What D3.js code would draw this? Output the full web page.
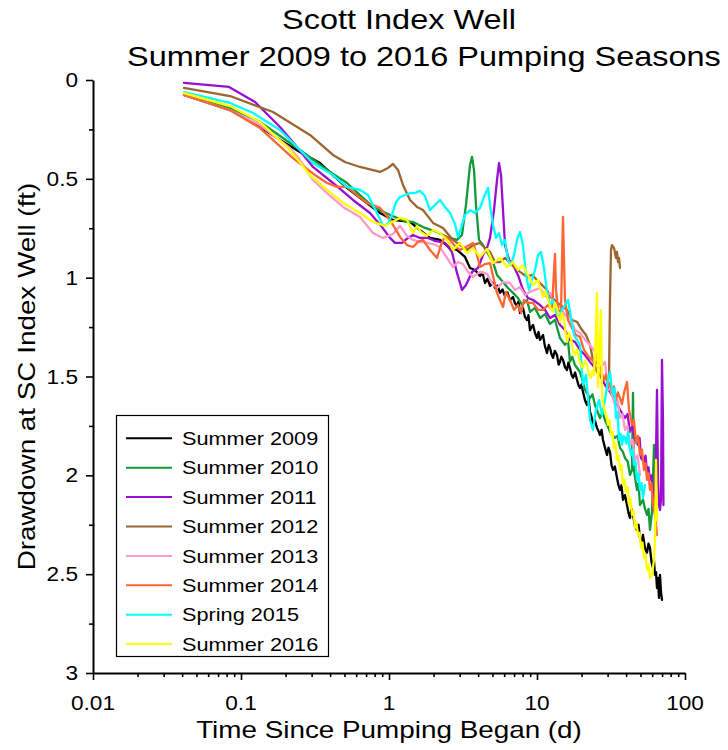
<!DOCTYPE html>
<html><head><meta charset="utf-8">
<script src="https://cdn.jsdelivr.net/npm/d3@7"></script>
<style>
body{margin:0;background:#fff}
svg{display:block}
text{font-family:"Liberation Sans",Arial,Helvetica,sans-serif;fill:#000}
</style>
</head><body>
<svg id="chart" width="728" height="750"></svg>
<script>
// ---------------- DATA ----------------
const seriesNames = ["Summer 2009","Summer 2010","Summer 2011","Summer 2012","Summer 2013","Summer 2014","Spring 2015","Summer 2016"];
const seriesColors = ["#000000","#129a3a","#9a0fcf","#9c6633","#ff99cc","#ff6633","#00ffff","#ffff00"];

// [time since pumping began (d), drawdown (ft)]
const summer2009 = [[0.0412,0.076],[0.0843,0.152],[0.128,0.228],[0.184,0.303],[0.250,0.364],[0.342,0.420],[0.418,0.481],[0.520,0.546],[0.667,0.607],[0.869,0.673],[1.064,0.708],[1.387,0.718],[1.620,0.759],[1.892,0.799],[2.211,0.809],[2.584,0.850],[2.880,0.860],[3.263,0.895],[3.526,0.951],[3.812,0.961],[4.120,0.992],[4.28,0.975],[4.454,1.027],[4.63,1.005],[4.814,1.042],[5.0,1.025],[5.203,1.052],[5.41,1.04],[5.623,1.077],[5.85,1.06],[6.079,1.093],[6.32,1.075],[6.570,1.113],[6.883,1.098],[7.1,1.13],[7.326,1.143],[7.5,1.12],[7.677,1.179],[8.04,1.153],[8.3,1.2],[8.557,1.214],[8.75,1.19],[8.969,1.265],[9.40,1.239],[9.7,1.28],[10.0,1.305],[10.24,1.275],[10.48,1.315],[10.98,1.290],[11.3,1.345],[11.68,1.381],[12.0,1.34],[12.24,1.355],[12.5,1.385],[12.83,1.406],[13.2,1.37],[13.65,1.391],[14.0,1.44],[14.30,1.426],[14.6,1.40],[14.98,1.416],[15.5,1.455],[15.95,1.467],[16.3,1.43],[16.71,1.457],[17.1,1.49],[17.51,1.507],[18.1,1.48],[18.64,1.517],[19.1,1.545],[19.52,1.558],[20.0,1.54],[20.46,1.578],[21.1,1.62],[21.77,1.644],[22.3,1.615],[22.81,1.679],[23.3,1.70],[23.89,1.745],[24.6,1.72],[25.43,1.760],[26.0,1.775],[26.65,1.796],[27.3,1.77],[27.92,1.821],[28.8,1.86],[29.72,1.897],[30.4,1.86],[31.13,1.882],[31.9,1.95],[32.63,1.973],[33.6,1.955],[34.71,2.013],[35.5,2.05],[36.37,2.074],[37.2,2.05],[38.11,2.124],[39.3,2.10],[40.56,2.150],[41.5,2.19],[42.49,2.215],[43.5,2.17],[44.53,2.200],[46.0,2.26],[47.39,2.276],[48.5,2.25],[49.65,2.317],[50.8,2.34],[52.02,2.301],[53.7,2.37],[55.37,2.392],[56.7,2.345],[58.00,2.367],[59.4,2.44],[60.78,2.468],[61.7,2.43],[62.69,2.504],[63.7,2.49],[64.68,2.570],[65.68,2.519],[66.72,2.620],[67.77,2.504],[68.82,2.590],[69.9,2.630]];

const summer2010 = [[0.0412,0.076],[0.0843,0.142],[0.1344,0.212],[0.2504,0.354],[0.3813,0.455],[0.5202,0.521],[0.637,0.582],[0.7795,0.642],[1.016,0.683],[1.323,0.718],[1.453,0.718],[1.697,0.744],[2.110,0.769],[2.465,0.794],[2.880,0.809],[3.113,0.784],[3.313,0.632],[3.526,0.430],[3.638,0.389],[3.752,0.455],[3.870,0.632],[4.056,0.809],[4.317,0.835],[4.594,0.870],[5.043,0.921],[5.367,0.986],[5.892,1.022],[6.37,1.052],[6.883,1.077],[7.44,1.103],[7.92,1.138],[8.557,1.113],[8.969,1.173],[9.694,1.153],[10.48,1.204],[11.33,1.184],[12.24,1.234],[13.23,1.214],[14.30,1.305],[15.46,1.340],[16.2,1.320],[16.71,1.426],[17.3,1.400],[18.06,1.442],[19.52,1.477],[20.3,1.520],[21.10,1.568],[22.81,1.609],[23.7,1.590],[24.65,1.644],[26.65,1.710],[27.7,1.680],[28.80,1.720],[30.0,1.750],[31.13,1.780],[33.65,1.811],[35.0,1.800],[36.37,1.861],[38.0,1.880],[39.31,1.912],[41.0,1.930],[42.49,1.998],[43.85,1.973],[44.53,1.583],[45.22,1.973],[47.39,2.074],[48.5,2.04],[49.65,2.150],[52.02,2.124],[53.7,2.17],[55.37,2.200],[56.7,2.17],[58.00,2.276],[59.84,2.185],[61.73,1.846],[62.69,2.124],[63.68,2.236]];

const summer2011 = [[0.0412,0.015],[0.0830,0.035],[0.1244,0.111],[0.1835,0.238],[0.2389,0.339],[0.3065,0.440],[0.4183,0.521],[0.5710,0.607],[0.7440,0.673],[0.8967,0.744],[1.016,0.799],[1.098,0.824],[1.224,0.824],[1.344,0.799],[1.453,0.784],[1.620,0.799],[1.834,0.799],[2.046,0.814],[2.390,0.824],[2.665,0.870],[2.880,0.976],[3.113,1.062],[3.313,1.037],[3.638,0.971],[3.994,0.951],[4.317,0.885],[4.594,0.850],[4.814,0.799],[5.123,0.658],[5.367,0.506],[5.537,0.420],[5.712,0.481],[5.892,0.658],[6.079,0.835],[6.47,0.910],[6.883,0.936],[7.44,0.986],[8.04,1.062],[8.69,1.103],[9.40,1.113],[10.48,1.138],[11.33,1.163],[12.24,1.204],[13.23,1.189],[14.30,1.239],[15.46,1.265],[16.71,1.315],[18.06,1.325],[19.52,1.366],[21.10,1.391],[22.81,1.426],[24.65,1.457],[26.65,1.492],[28.80,1.543],[31.13,1.578],[33.65,1.619],[36.37,1.669],[39.31,1.710],[40.9,1.69],[42.49,1.780],[44.2,1.75],[45.93,1.821],[48.13,1.846],[49.3,1.81],[50.43,1.912],[52.84,1.932],[54.1,1.90],[55.37,1.983],[56.7,1.96],[58.00,2.023],[59.4,2.00],[60.78,2.084],[62.69,2.124],[63.68,1.897],[64.68,1.568],[65.68,2.023],[66.72,2.150],[67.77,2.175],[68.82,2.124],[69.9,1.416],[71.0,1.720],[71.5,2.150]];

const summer2012 = [[0.0412,0.040],[0.0843,0.081],[0.1645,0.162],[0.2925,0.278],[0.4183,0.379],[0.5043,0.415],[0.637,0.440],[0.8694,0.465],[0.9845,0.445],[1.064,0.425],[1.150,0.455],[1.243,0.531],[1.387,0.607],[1.546,0.642],[1.697,0.658],[1.983,0.723],[2.317,0.749],[2.706,0.809],[3.018,0.835],[3.365,0.860],[3.695,0.835],[4.120,0.824],[4.454,0.850],[4.814,0.870],[5.203,0.921],[5.623,0.921],[6.079,0.900],[6.570,0.926],[7.102,0.951],[7.677,0.971],[8.557,0.996],[9.25,0.986],[10.0,1.012],[10.81,1.037],[11.68,1.062],[12.24,1.098],[13.23,1.113],[14.30,1.138],[15.95,1.163],[17.24,1.214],[18.64,1.224],[20.14,1.265],[21.43,1.290],[22.81,1.340],[23.89,1.416],[25.43,1.477],[26.65,1.492],[28.36,1.507],[29.72,1.517],[30.65,1.507],[31.13,1.113],[31.62,0.860],[32.12,0.835],[33.13,0.850],[34.18,0.900],[34.71,0.870],[35.26,0.921],[35.82,0.900],[36.37,0.951]];

const summer2013 = [[0.0412,0.076],[0.0843,0.152],[0.1344,0.228],[0.2143,0.344],[0.2504,0.405],[0.3065,0.506],[0.3813,0.572],[0.4889,0.642],[0.637,0.693],[0.7795,0.774],[0.911,0.799],[1.064,0.779],[1.187,0.738],[1.323,0.789],[1.453,0.809],[1.620,0.819],[1.806,0.824],[1.983,0.830],[2.211,0.845],[2.465,0.900],[2.706,0.946],[2.926,0.921],[3.162,0.931],[3.418,0.971],[3.695,0.996],[4.120,0.971],[4.594,0.981],[5.043,1.037],[5.367,1.052],[5.892,1.022],[6.570,1.027],[7.102,1.062],[7.677,1.047],[8.297,1.088],[8.969,1.072],[9.694,1.062],[10.48,1.052],[11.33,1.093],[12.24,1.077],[13.23,1.138],[14.30,1.148],[15.46,1.189],[16.71,1.204],[18.06,1.265],[19.52,1.280],[21.10,1.315],[22.81,1.340],[24.65,1.376],[26.65,1.457],[28.80,1.426],[30.18,1.568],[31.13,1.558],[33.65,1.644],[35.0,1.62],[36.37,1.710],[37.8,1.69],[39.31,1.770],[40.9,1.75],[42.49,1.846],[44.2,1.82],[45.93,1.922],[47.8,1.90],[49.65,1.998]];

const summer2014 = [[0.0412,0.076],[0.0843,0.152],[0.1344,0.243],[0.2245,0.395],[0.3162,0.481],[0.3813,0.521],[0.4454,0.541],[0.5202,0.541],[0.6079,0.582],[0.7102,0.622],[0.8694,0.647],[1.016,0.708],[1.187,0.794],[1.323,0.835],[1.453,0.845],[1.570,0.819],[1.697,0.809],[1.892,0.860],[2.110,0.900],[2.246,0.835],[2.390,0.789],[2.584,0.809],[2.792,0.840],[3.018,0.860],[3.313,0.845],[3.695,0.824],[3.932,0.885],[4.120,0.946],[4.454,0.931],[4.814,0.926],[5.123,1.012],[5.367,1.077],[5.623,1.113],[5.892,1.148],[6.17,1.072],[6.570,1.113],[6.99,1.163],[7.44,1.138],[7.80,1.179],[8.17,1.113],[8.69,1.128],[9.40,1.128],[10.16,1.163],[10.98,1.163],[11.87,1.138],[12.63,1.163],[13.03,0.961],[13.23,0.880],[13.44,1.062],[13.87,1.163],[14.53,1.173],[14.76,0.910],[14.98,0.693],[15.22,0.910],[15.46,1.113],[16.20,1.214],[17.24,1.255],[18.34,1.290],[19.52,1.300],[20.78,1.366],[22.11,1.396],[23.53,1.416],[25.03,1.426],[26.65,1.457],[28.36,1.517],[29.2,1.49],[30.18,1.558],[31.1,1.53],[32.12,1.578],[33.1,1.55],[34.18,1.619],[35.2,1.58],[36.37,1.609],[37.5,1.64],[38.71,1.583],[40.56,1.528],[41.84,1.669],[42.8,1.70],[43.85,1.745],[45.2,1.72],[46.67,1.836],[48.1,1.80],[49.65,1.897],[51.2,1.87],[52.84,1.973],[54.1,1.94],[55.37,2.023],[56.7,1.99],[58.00,2.074],[59.4,2.04],[60.78,2.150],[62.69,2.200],[64.68,2.301]];

const spring2015 = [[0.0412,0.061],[0.0843,0.116],[0.1205,0.167],[0.1835,0.253],[0.3065,0.420],[0.4183,0.481],[0.5202,0.541],[0.637,0.556],[0.721,0.582],[0.7795,0.632],[0.8427,0.683],[0.911,0.738],[0.9845,0.728],[1.048,0.683],[1.115,0.617],[1.187,0.592],[1.283,0.582],[1.387,0.572],[1.498,0.572],[1.620,0.561],[1.751,0.587],[1.892,0.658],[2.046,0.632],[2.211,0.607],[2.390,0.642],[2.584,0.673],[2.792,0.728],[2.926,0.794],[3.066,0.749],[3.263,0.683],[3.526,0.658],[3.812,0.673],[4.120,0.647],[4.385,0.592],[4.666,0.546],[4.814,0.632],[5.043,0.733],[5.284,0.799],[5.537,0.774],[5.80,0.835],[6.079,0.809],[6.37,0.910],[6.67,0.936],[6.99,0.885],[7.33,0.809],[7.677,0.769],[8.04,0.835],[8.43,0.986],[8.83,1.062],[9.25,1.012],[9.694,0.961],[10.16,0.885],[10.64,0.870],[11.15,0.951],[11.68,1.072],[12.24,1.138],[12.83,1.113],[13.44,1.173],[14.08,1.204],[14.76,1.163],[15.46,1.138],[16.20,1.113],[16.97,1.204],[17.78,1.290],[18.64,1.315],[19.52,1.340],[20.46,1.543],[21.43,1.492],[22.81,1.720],[23.89,1.770],[25.03,1.669],[26.24,1.619],[27.50,1.694],[28.80,1.619],[30.18,1.517],[31.13,1.477],[31.9,1.55],[32.63,1.593],[33.4,1.56],[34.18,1.710],[35.0,1.68],[35.82,1.821],[36.7,1.79],[37.53,1.846],[38.4,1.80],[39.31,1.810],[40.2,1.84],[41.2,1.780],[42.2,1.86],[43.16,1.897],[44.2,1.87],[45.22,1.947],[46.3,1.93],[47.39,2.023],[48.5,1.99],[49.65,2.074],[50.8,2.04],[52.02,2.114],[53.66,2.049]];

const summer2016 = [[0.0412,0.066],[0.0843,0.132],[0.1344,0.212],[0.2143,0.354],[0.2925,0.481],[0.3813,0.556],[0.4889,0.622],[0.637,0.673],[0.7795,0.718],[0.9397,0.738],[1.048,0.718],[1.187,0.698],[1.323,0.708],[1.453,0.774],[1.546,0.738],[1.645,0.769],[1.806,0.789],[1.983,0.759],[2.211,0.774],[2.465,0.809],[2.706,0.860],[3.018,0.824],[3.365,0.875],[3.695,0.850],[4.120,0.895],[4.594,0.855],[5.043,0.926],[5.623,0.900],[6.27,0.946],[6.883,0.921],[7.44,0.961],[8.04,0.936],[8.69,0.986],[9.40,1.037],[10.16,1.012],[10.55,1.06],[10.98,1.098],[11.4,1.07],[11.87,1.113],[12.3,1.15],[12.83,1.173],[13.2,1.13],[13.65,1.153],[14.0,1.20],[14.30,1.224],[14.7,1.18],[15.22,1.204],[15.6,1.28],[15.95,1.325],[16.4,1.28],[16.97,1.305],[17.5,1.37],[18.06,1.391],[18.6,1.36],[19.22,1.411],[19.8,1.44],[20.46,1.457],[21.1,1.42],[21.77,1.442],[22.5,1.49],[23.17,1.507],[23.7,1.47],[24.27,1.492],[25.03,1.265],[25.43,1.077],[25.84,1.553],[26.65,1.315],[27.06,1.163],[27.50,1.593],[28.1,1.65],[28.80,1.679],[29.5,1.70],[30.18,1.745],[30.9,1.72],[31.62,1.796],[32.4,1.78],[33.13,1.861],[33.9,1.84],[34.71,1.922],[35.5,1.90],[36.37,1.973],[37.2,1.95],[38.11,2.049],[39.0,2.02],[39.94,2.084],[40.9,2.06],[41.84,2.150],[42.8,2.12],[43.85,2.200],[44.9,2.18],[45.93,2.266],[47.0,2.24],[48.13,2.301],[49.3,2.29],[50.43,2.367],[51.6,2.34],[52.84,2.418],[54.1,2.40],[55.37,2.479],[56.7,2.45],[58.00,2.519],[59.84,2.504],[61.73,2.428],[62.69,2.327],[63.68,1.922],[64.68,2.226]];

const seriesData = [summer2009,summer2010,summer2011,summer2012,summer2013,summer2014,spring2015,summer2016];

const xTickValues = [0.01,0.1,1,10,100];
const xTickLabels = ["0.01","0.1","1","10","100"];
const xMinorTicks = [0.02,0.03,0.04,0.05,0.06,0.07,0.08,0.09,0.2,0.3,0.4,0.5,0.6,0.7,0.8,0.9,2,3,4,5,6,7,8,9,20,30,40,50,60,70,80,90];
const yTickValues = [0,0.5,1,1.5,2,2.5,3];
const yTickLabels = ["0","0.5","1","1.5","2","2.5","3"];
const yMinorTicks = [0.25,0.75,1.25,1.75,2.25,2.75];
const titleLines = ["Scott Index Well","Summer 2009 to 2016 Pumping Seasons"];
const xTitle = "Time Since Pumping Began (d)";
const yTitle = "Drawdown at SC Index Well (ft)";

// ---------------- LAYOUT ----------------
const L = 93, R = 685, T = 80, B = 673;
const SX = 1.16; // horizontal text stretch seen in the reference
const svg = d3.select("#chart");
const x = d3.scaleLog().domain([0.01,100]).range([L,R]);
const y = d3.scaleLinear().domain([0,3]).range([T,B]);

function stretchedText(g, str, px, py, size, anchor, rot){
  return g.append("text")
    .attr("transform", `translate(${px},${py})` + (rot ? ` rotate(${rot})` : "") + ` scale(${SX},1)`)
    .attr("text-anchor", anchor)
    .style("font-size", size + "px")
    .text(str);
}

// lines
const line = d3.line().x(d => x(d[0])).y(d => y(d[1]));
const plot = svg.append("g");
seriesData.forEach((s,i) => {
  plot.append("path")
    .datum(s)
    .attr("d", line)
    .attr("fill","none")
    .attr("stroke", seriesColors[i])
    .attr("stroke-width", 2.3)
    .attr("stroke-linejoin","round")
    .attr("stroke-linecap","round");
});

// axes
const gx = svg.append("g").attr("transform", `translate(0,${B})`);
gx.call(d3.axisBottom(x).tickValues(xTickValues).tickSize(7).tickSizeOuter(0).tickFormat(""));
const gxm = svg.append("g").attr("transform", `translate(0,${B})`);
gxm.call(d3.axisBottom(x).tickValues(xMinorTicks).tickSize(4).tickSizeOuter(0).tickFormat(""));
gxm.select(".domain").remove();

const gy = svg.append("g").attr("transform", `translate(${L},0)`);
gy.call(d3.axisLeft(y).tickValues(yTickValues).tickSize(7).tickSizeOuter(0).tickFormat(""));
const gym = svg.append("g").attr("transform", `translate(${L},0)`);
gym.call(d3.axisLeft(y).tickValues(yMinorTicks).tickSize(4).tickSizeOuter(0).tickFormat(""));
gym.select(".domain").remove();

svg.selectAll(".domain").attr("stroke","#000").attr("stroke-width",2);
svg.selectAll(".tick line").attr("stroke","#000").attr("stroke-width",1.6);

// tick labels
const labels = svg.append("g");
xTickValues.forEach((v,i) => stretchedText(labels, xTickLabels[i], x(v), 710, 19.5, "middle"));
yTickValues.forEach((v,i) => stretchedText(labels, yTickLabels[i], 78, y(v) + 7, 19.5, "end"));

// titles
stretchedText(svg, titleLines[0], 282, 29, 28, "start");
stretchedText(svg, titleLines[1], 127, 66, 28, "start");
stretchedText(svg, xTitle, (L+R)/2, 738, 24, "middle");
stretchedText(svg, yTitle, 35, (T+B)/2, 24, "middle", -90);

// legend
const lg = svg.append("g");
lg.append("rect").attr("x",116.5).attr("y",415.5).attr("width",212).attr("height",241)
  .attr("fill","#fff").attr("stroke","#000").attr("stroke-width",1.2);
seriesNames.forEach((n,i) => {
  const cy = 438.3 + i*29.4;
  lg.append("line").attr("x1",126).attr("x2",172).attr("y1",cy).attr("y2",cy)
    .attr("stroke",seriesColors[i]).attr("stroke-width", 2);
  stretchedText(lg, n, 182, cy + 6.7, 18.7, "start");
});
</script>
</body></html>
